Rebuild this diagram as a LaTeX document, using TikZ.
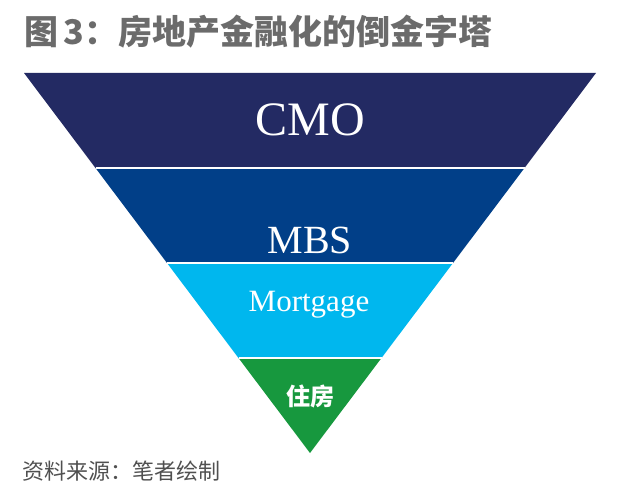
\documentclass[tikz,border=0pt]{standalone}
\usepackage{fontspec}
\setmainfont{Liberation Serif}
\newfontfamily\cjk{Noto Sans CJK SC}
\definecolor{pyrNavy}{HTML}{232A63}
\definecolor{pyrBlue}{HTML}{013F88}
\definecolor{pyrCyan}{HTML}{00B7EE}
\definecolor{pyrGreen}{HTML}{17983E}
\definecolor{pyrTitle}{HTML}{6B6B6B}
\definecolor{pyrNote}{HTML}{505050}
\tikzset{
  pyr diagram/.style={
    x=1pt, y=-1pt,
    every node/.style={inner sep=0pt, outer sep=0pt}
  },
  pyr band/.style={draw=none},
  pyr gap/.style={draw=white, line width=1.5pt},
  pyr label/.style={text=white}
}

\begin{document}
\begin{tikzpicture}[pyr diagram]
    \useasboundingbox (0,0) rectangle (622,492);
    % corners of the bands
    \coordinate (tl) at (24,73);
    \coordinate (tr) at (596,73);
    \coordinate (al) at (95.5,168);
    \coordinate (ar) at (524.5,168);
    \coordinate (bl) at (167,263);
    \coordinate (br) at (453,263);
    \coordinate (cl) at (238.5,358);
    \coordinate (cr) at (381.5,358);
    \coordinate (apex) at (310,453);
    \fill[pyr band,pyrNavy] (tl) -- (tr) -- (ar) -- (al) -- cycle;
    \fill[pyr band,pyrBlue] (al) -- (ar) -- (br) -- (bl) -- cycle;
    \fill[pyr band,pyrCyan] (bl) -- (br) -- (cr) -- (cl) -- cycle;
    \fill[pyr band,pyrGreen] (cl) -- (cr) -- (apex) -- cycle;
    \draw[pyr gap] (al) -- (ar);
    \draw[pyr gap] (bl) -- (br);
    \draw[pyr gap] (cl) -- (cr);
    % labels
    \node[pyr label,font=\fontsize{48}{50}\selectfont] (cmo) at (310,120) {CMO};
    \node[pyr label,font=\fontsize{40}{42}\selectfont] (mbs) at (310,240) {MBS};
    \node[pyr label,font=\fontsize{31}{33}\selectfont] (mortgage) at (309,305) {Mortgage};
    \node[pyr label,font=\cjk\bfseries\fontsize{24}{26}\selectfont] (house) at (310,396) {住房};
    \node[anchor=west,text=pyrTitle,font=\cjk\bfseries\fontsize{34}{36}\selectfont]
      (title) at (24,32) {图\,3：房地产金融化的倒金字塔};
    \node[anchor=west,text=pyrNote,font=\cjk\fontsize{22}{24}\selectfont]
      (source) at (23,471) {资料来源：笔者绘制};
\end{tikzpicture}
\end{document}
